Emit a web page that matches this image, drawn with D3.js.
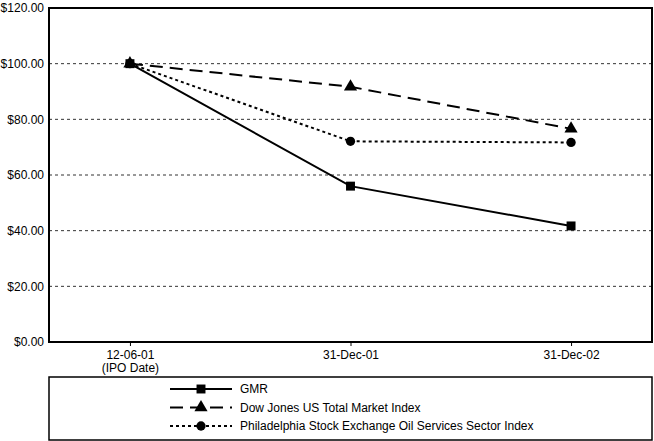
<!DOCTYPE html>
<html><head><meta charset="utf-8">
<script src="https://cdn.jsdelivr.net/npm/d3@7"></script>
<style>body{margin:0;background:#fff}svg{display:block;font-family:"Liberation Sans",Arial,sans-serif}</style>
</head><body><svg id="c" width="654" height="441"></svg>
<script>
const categories = ["12-06-01\n(IPO Date)", "31-Dec-01", "31-Dec-02"];
const gmr = [100, 56, 41.7];
const dowJones = [100, 91.7, 76.6];
const philOil = [100, 72.1, 71.7];
const seriesNames = ["GMR", "Dow Jones US Total Market Index", "Philadelphia Stock Exchange Oil Services Sector Index"];
const yTicks = [0, 20, 40, 60, 80, 100, 120];

const svg = d3.select("#c");
const L = 49, R = 652, T = 8, B = 342;
const x = d3.scalePoint().domain(categories).range([L, R]).padding(0.367);
const y = d3.scaleLinear().domain([0, 120]).range([B, T]);

// gridlines
svg.append("g").selectAll("line").data(yTicks.filter(d => d > 0 && d < 120)).join("line")
  .attr("x1", L).attr("x2", R).attr("y1", d => y(d)).attr("y2", d => y(d))
  .attr("stroke", "#333").attr("stroke-width", 1).attr("stroke-dasharray", "3,3");

// y axis
const ya = svg.append("g").attr("transform", `translate(${L},0)`)
  .call(d3.axisLeft(y).tickValues(yTicks).tickSize(0).tickPadding(5).tickFormat(d => "$" + d3.format(".2f")(d)));
ya.select(".domain").remove();
ya.selectAll("text").attr("font-size", 12).attr("fill", "#000").attr("font-family", "Liberation Sans, Arial, sans-serif");

// x axis
const xa = svg.append("g").attr("transform", `translate(0,${B})`)
  .call(d3.axisBottom(x).tickSize(4).tickPadding(6).tickFormat(""));
xa.select(".domain").remove();
xa.selectAll("line").attr("stroke", "#000");
xa.selectAll(".tick").each(function(d) {
  const parts = d.split("\n");
  const t = d3.select(this).append("text").attr("fill", "#000").attr("font-size", 12)
    .attr("text-anchor", "middle").attr("font-family", "Liberation Sans, Arial, sans-serif");
  parts.forEach((p, i) => t.append("tspan").attr("x", 0).attr("y", 17 + i * 13).text(p));
});

// frame
svg.append("rect").attr("x", L).attr("y", T).attr("width", R - L).attr("height", B - T)
  .attr("fill", "none").attr("stroke", "#000").attr("stroke-width", 2);

const series = [
  {name: seriesNames[0], values: gmr, dash: null, marker: "square"},
  {name: seriesNames[1], values: dowJones, dash: "13,7", marker: "triangle"},
  {name: seriesNames[2], values: philOil, dash: "3,3", marker: "circle"}
];
const sym = {square: d3.symbolSquare, triangle: d3.symbolTriangle, circle: d3.symbolCircle};
const size = {square: 80, triangle: 75, circle: 68};
const line = d3.line().x((d, i) => x(categories[i])).y(d => y(d));

series.slice().reverse().forEach(s => {
  svg.append("path").datum(s.values).attr("d", line).attr("fill", "none")
    .attr("stroke", "#000").attr("stroke-width", 2).attr("stroke-dasharray", s.dash);
});
series.slice().reverse().forEach(s => {
  svg.append("g").selectAll("path").data(s.values).join("path")
    .attr("transform", (d, i) => `translate(${x(categories[i])},${y(d)})`)
    .attr("d", d3.symbol().type(sym[s.marker]).size(size[s.marker])).attr("fill", "#000");
});

// legend
const lg = svg.append("g");
lg.append("rect").attr("x", 49).attr("y", 377).attr("width", 603).attr("height", 63)
  .attr("fill", "none").attr("stroke", "#000").attr("stroke-width", 1.5);
series.forEach((s, i) => {
  const yy = 389 + i * 18.5;
  lg.append("line").attr("x1", 170).attr("x2", 232).attr("y1", yy).attr("y2", yy)
    .attr("stroke", "#000").attr("stroke-width", 2).attr("stroke-dasharray", s.dash);
  lg.append("path").attr("transform", `translate(201,${yy})`)
    .attr("d", d3.symbol().type(sym[s.marker]).size(size[s.marker])).attr("fill", "#000");
  lg.append("text").attr("x", 240).attr("y", yy + 4).attr("font-size", 12).text(s.name);
});
</script></body></html>
